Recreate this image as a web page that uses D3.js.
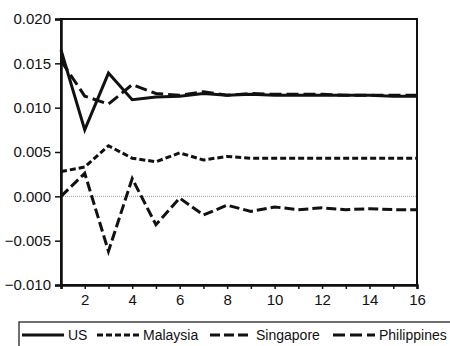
<!DOCTYPE html>
<html><head><meta charset="utf-8">
<script src="https://cdn.jsdelivr.net/npm/d3@7"></script>
<style>body{margin:0;background:#fff}svg{display:block}text{font-family:"Liberation Sans",Arial,sans-serif;fill:#111}</style>
</head><body>
<svg id="c" width="450" height="346"></svg>
<script>
const periods = d3.range(1, 17);
const us          = [0.0165,0.0075,0.0139,0.0109,0.0112,0.0113,0.0116,0.0114,0.0115,0.0114,0.0114,0.0114,0.0114,0.0114,0.0113,0.0113];
const philippines = [0.0153,0.0113,0.0104,0.0126,0.0116,0.0114,0.0118,0.0114,0.0116,0.0115,0.0115,0.0115,0.0114,0.0114,0.0114,0.0114];
const malaysia    = [0.0028,0.0033,0.0057,0.0043,0.0039,0.0049,0.0041,0.0045,0.0043,0.0043,0.0043,0.0043,0.0043,0.0043,0.0043,0.0043];
const singapore   = [0.0000,0.0026,-0.0062,0.0020,-0.0032,-0.0002,-0.0021,-0.0010,-0.0017,-0.0012,-0.0015,-0.0013,-0.0015,-0.0014,-0.0015,-0.0015];
const yTicks = [-0.010,-0.005,0.000,0.005,0.010,0.015,0.020];
const xTicks = [2,4,6,8,10,12,14,16];
const seriesNames = ["US","Malaysia","Singapore","Philippines"];

const svg = d3.select("#c");
const L=61,R=417,T=19,B=285;
const x = d3.scaleLinear().domain([1,16]).range([L,R]);
const y = d3.scaleLinear().domain([-0.010,0.020]).range([B,T]);

// zero dotted line
svg.append("line").attr("x1",L).attr("x2",R).attr("y1",y(0)).attr("y2",y(0))
  .attr("stroke","#999").attr("stroke-width",1).attr("stroke-dasharray","1,1");

const styles = {
  US:{data:us,dash:null},
  Malaysia:{data:malaysia,dash:"6,3"},
  Singapore:{data:singapore,dash:"10,4"},
  Philippines:{data:philippines,dash:"12,5"}
};
const line = d3.line().x((d,i)=>x(periods[i])).y(d=>y(d));
["Singapore","Malaysia","Philippines","US"].forEach(n=>{
  svg.append("path").attr("d",line(styles[n].data)).attr("fill","none")
    .attr("stroke","#111").attr("stroke-width",3)
    .attr("stroke-dasharray",styles[n].dash);
});

// frame
svg.append("rect").attr("x",L).attr("y",T).attr("width",R-L).attr("height",B-T)
  .attr("fill","none").attr("stroke","#111").attr("stroke-width",2);

// y axis
const ya = svg.append("g").attr("transform",`translate(${L},0)`)
  .call(d3.axisLeft(y).tickValues(yTicks).tickFormat(d3.format(".3f")).tickSize(6).tickPadding(4));
ya.select(".domain").attr("stroke","#111").attr("stroke-width",2.5);
ya.selectAll("line").attr("stroke","#111").attr("stroke-width",1.5);
ya.selectAll("text").style("font-size","15px").attr("fill","#111")
  .attr("font-family","Liberation Sans, Arial, sans-serif");

// x axis
const xa = svg.append("g").attr("transform",`translate(0,${B})`)
  .call(d3.axisBottom(x).tickValues(periods).tickFormat(d=>xTicks.includes(d)?d:"").tickSize(4).tickPadding(5));
xa.select(".domain").attr("stroke","#111").attr("stroke-width",2.5);
xa.selectAll("line").attr("stroke","#111").attr("stroke-width",1.5);
xa.selectAll("text").style("font-size","15px").attr("fill","#111")
  .attr("font-family","Liberation Sans, Arial, sans-serif");

// legend
svg.append("rect").attr("x",19).attr("y",322).attr("width",440).attr("height",30)
  .attr("fill","none").attr("stroke","#111").attr("stroke-width",1.2);
const lx = [22,97,210,333];
seriesNames.forEach((n,i)=>{
  svg.append("line").attr("x1",lx[i]).attr("x2",lx[i]+42).attr("y1",335).attr("y2",335)
    .attr("stroke","#111").attr("stroke-width",3).attr("stroke-dasharray",styles[n].dash);
  svg.append("text").attr("x",lx[i]+46).attr("y",340).style("font-size","14px").text(n);
});
</script>
</body></html>
